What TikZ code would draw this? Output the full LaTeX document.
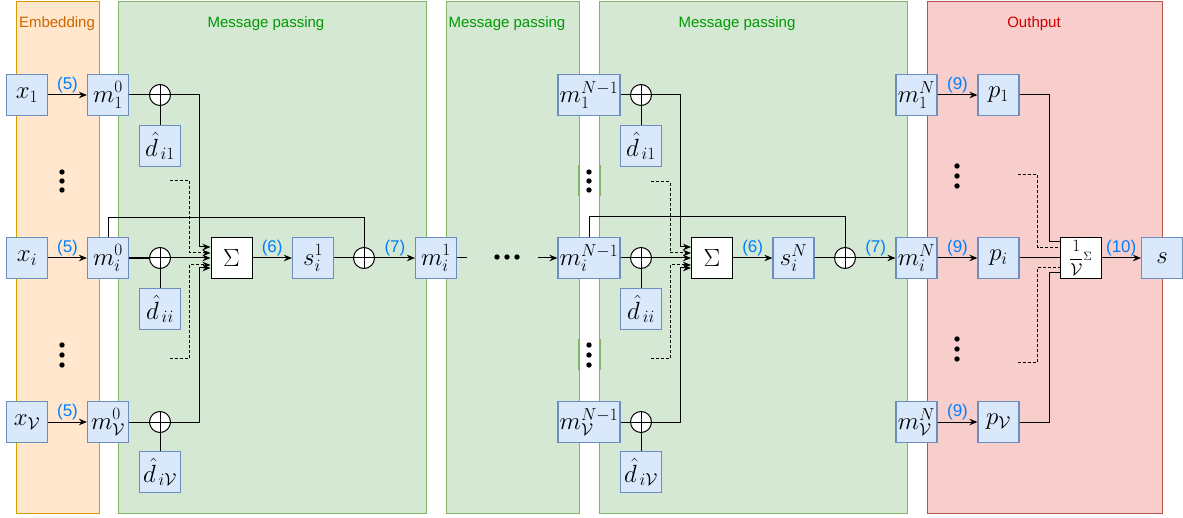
\RequirePackage{fix-cm}
\documentclass[tikz,border=0pt]{standalone}
\usepackage{fontspec}
\setsansfont{Liberation Sans}
\DeclareMathSizes{24.88}{24.88}{17.28}{12}
\DeclareMathSizes{17.28}{17.28}{12}{10}
\usetikzlibrary{calc,arrows.meta}
\definecolor{bfill}{HTML}{DAE8FC}
\definecolor{bbord}{HTML}{6C8EBF}
\definecolor{gfill}{HTML}{D5E8D4}
\definecolor{gbord}{HTML}{82B366}
\definecolor{ofill}{HTML}{FFE6CC}
\definecolor{obord}{HTML}{D79B00}
\definecolor{rfill}{HTML}{F8CECC}
\definecolor{rbord}{HTML}{B85450}
\definecolor{lblue}{HTML}{007FFF}
\definecolor{otext}{HTML}{CC6600}
\definecolor{gtext}{HTML}{009900}
\definecolor{rtext}{HTML}{CC0000}
\begin{document}
\begin{tikzpicture}[x=1pt,y=-1pt,
  bx/.style={draw=bbord, fill=bfill, line width=1.2pt, minimum width=41pt, minimum height=41pt, inner sep=0pt, font=\fontsize{24.88}{30}\selectfont},
  wbx/.style={bx, minimum width=62pt},
  sumbox/.style={draw=black, fill=white, line width=1pt, minimum width=41pt, minimum height=41pt, inner sep=0pt, font=\fontsize{24.88}{30}\selectfont},
  opl/.style={circle, draw=black, fill=white, line width=1pt, minimum size=21pt, inner sep=0pt,
    path picture={\draw[line width=1pt] (path picture bounding box.north) -- (path picture bounding box.south)
      (path picture bounding box.west) -- (path picture bounding box.east);}},
  panel/.style={line width=1pt},
  ttl/.style={font=\sffamily\fontsize{15}{18}\selectfont},
  lbl/.style={font=\sffamily\fontsize{17}{20}\selectfont, text=lblue, inner sep=1pt},
  ln/.style={draw=black, line width=1pt},
  arr/.style={ln, -{Stealth[length=8pt,width=6.5pt]}},
  dsh/.style={dash pattern=on 3pt off 2pt}
]
\useasboundingbox (0,0) rectangle (1183,518);
% panels
\draw[panel, draw=obord, fill=ofill] (16,2) rectangle (99,513);
\draw[panel, draw=gbord, fill=gfill] (118,2) rectangle (426,513);
\draw[panel, draw=gbord, fill=gfill] (446,2) rectangle (579,513);
\draw[panel, draw=gbord, fill=gfill] (599,2) rectangle (907,513);
\draw[panel, draw=rbord, fill=rfill] (927,2) rectangle (1162,513);
\draw[gbord, line width=2pt] (579,165) -- (579,196) (600,165) -- (600,196)
  (579,339) -- (579,370) (600,339) -- (600,370);
\node[ttl, text=otext] (t0) at (57,24) {Embedding};
\node[ttl, text=gtext] (t1) at (266,24) {Message passing};
\node[ttl, text=gtext] (t2) at (507,24) {Message passing};
\node[ttl, text=gtext] (t3) at (737,24) {Message passing};
\node[ttl, text=rtext] (t4) at (1034,24) {Outhput};
% dots
\foreach \y in {172,181,190,345,355,365} {\fill (62,\y) circle[radius=2.7pt]; \fill (589,\y) circle[radius=2.7pt];}
\foreach \y in {166,176,186,339,349,359} {\fill (957,\y) circle[radius=2.7pt];}
\foreach \x in {497,507,517} {\fill (\x,257) circle[radius=2.7pt];}
% embedding
\node[bx] (x1) at (27,95) {$x_1$};
\node[bx] (xi) at (27,258) {$x_i$};
\node[bx] (xV) at (27,422) {$x_{\mathcal V}$};
% message passing 1
\node[bx] (m10) at (108,95) {$m_1^0$};
\node[bx] (mi0) at (108,258) {$m_i^0$};
\node[bx] (mV0) at (108,422) {$m_{\mathcal V}^0$};
\node[opl] (c11) at (160,95) {};
\node[opl] (c1i) at (160,258) {};
\node[opl] (c1V) at (160,422) {};
\node[bx] (d11) at (160,146) {$\hat d_{\,i1}$};
\node[bx] (d1i) at (160,309) {$\hat d_{\,ii}$};
\node[bx] (d1V) at (160,472) {$\hat d_{\,i\mathcal V}$};
\node[sumbox] (S1) at (231.5,258) {$\Sigma$};
\node[bx] (s1) at (313,258) {$s_i^1$};
\node[opl] (c1o) at (364,258) {};
\node[bx] (mi1) at (436,258) {$m_i^1$};
% message passing 3
\node[wbx] (m1N1) at (589,95) {$m_1^{N-1}$};
\node[wbx] (miN1) at (589,258) {$m_i^{N-1}$};
\node[wbx] (mVN1) at (589,422) {$m_{\mathcal V}^{N-1}$};
\node[opl] (c31) at (641,95) {};
\node[opl] (c3i) at (641,258) {};
\node[opl] (c3V) at (641,422) {};
\node[bx] (d31) at (641,146) {$\hat d_{\,i1}$};
\node[bx] (d3i) at (641,309) {$\hat d_{\,ii}$};
\node[bx] (d3V) at (641,472) {$\hat d_{\,i\mathcal V}$};
\node[sumbox] (S3) at (712,258) {$\Sigma$};
\node[bx] (sN) at (793.5,258) {$s_i^N$};
\node[opl] (c3o) at (845,258) {};
% output
\node[bx] (m1N) at (916.5,95) {$m_1^N$};
\node[bx] (miN) at (916.5,258) {$m_i^N$};
\node[bx] (mVN) at (916.5,422) {$m_{\mathcal V}^N$};
\node[bx] (p1) at (998.5,95) {$p_1$};
\node[bx] (pi) at (998.5,258) {$p_i$};
\node[bx] (pV) at (998.5,422) {$p_{\mathcal V}$};
\node[sumbox, font=\fontsize{17.28}{20}\selectfont] (A) at (1080.5,258) {$\displaystyle\frac{1}{\mathcal V}\raisebox{0.4ex}{$\scriptstyle\Sigma$}$};
\node[bx] (s) at (1162,258) {$s$};
% coordinates
\coordinate (e1a) at (170,181);
\coordinate (e1b) at (170,359);
\coordinate (e3a) at (651,182);
\coordinate (e3b) at (651,359);
\coordinate (e4a) at (1018,175);
\coordinate (e4b) at (1018,363);
\coordinate (g1) at (467,258);
\coordinate (g2) at (538,258);
% embedding arrows
\draw[arr] (x1) -- node[lbl,above]{(5)} (m10);
\draw[arr] (xi) -- node[lbl,above]{(5)} (mi0);
\draw[arr] (xV) -- node[lbl,above]{(5)} (mV0);
% MP1 connectors
\draw[ln] (m10) -- (c11);
\draw[ln] (c11) -- (d11);
\draw[ln, line width=1.8pt] (mi0) -- (c1i);
\draw[ln] (c1i) -- (d1i);
\draw[ln] (mV0) -- (c1V);
\draw[ln] (c1V) -- (d1V);
\draw[arr] (c11.east) -| ($(S1.west)+(-11,-11)$) -- ($(S1.west)+(0,-11)$);
\draw[arr, dsh] (e1a) -| ($(S1.west)+(-21,-5)$) -- ($(S1.west)+(0,-5)$);
\draw[arr] (c1i) -- (S1);
\draw[arr, dsh] (e1b) -| ($(S1.west)+(-21,7)$) -- ($(S1.west)+(0,7)$);
\draw[arr] (c1V.east) -| ($(S1.west)+(-11,10)$) -- ($(S1.west)+(0,10)$);
\draw[arr] (S1) -- node[lbl,above]{(6)} (s1);
\draw[ln] (s1) -- (c1o);
\draw[arr] (c1o) -- node[lbl,above]{(7)} (mi1);
\draw[ln] (mi0.north) |- ($(c1o)+(0,-40)$) -- (c1o.north);
\draw[ln] (mi1) -- (g1);
\draw[arr] (g2) -- (miN1);
% MP3 connectors
\draw[ln] (m1N1) -- (c31);
\draw[ln] (c31) -- (d31);
\draw[ln] (miN1) -- (c3i);
\draw[ln] (c3i) -- (d3i);
\draw[ln] (mVN1) -- (c3V);
\draw[ln] (c3V) -- (d3V);
\draw[arr] (c31.east) -| ($(S3.west)+(-11,-11)$) -- ($(S3.west)+(0,-11)$);
\draw[arr, dsh] (e3a) -| ($(S3.west)+(-21,-5)$) -- ($(S3.west)+(0,-5)$);
\draw[arr] (c3i) -- (S3);
\draw[arr, dsh] (e3b) -| ($(S3.west)+(-21,7)$) -- ($(S3.west)+(0,7)$);
\draw[arr] (c3V.east) -| ($(S3.west)+(-11,10)$) -- ($(S3.west)+(0,10)$);
\draw[arr] (S3) -- node[lbl,above]{(6)} (sN);
\draw[ln] (sN) -- (c3o);
\draw[arr] (c3o) -- node[lbl,above]{(7)} (miN);
\draw[ln] (miN1.north) |- ($(c3o)+(0,-41)$) -- (c3o.north);
% output connectors
\draw[arr] (m1N) -- node[lbl,above]{(9)} (p1);
\draw[arr] (miN) -- node[lbl,above]{(9)} (pi);
\draw[arr] (mVN) -- node[lbl,above]{(9)} (pV);
\draw[ln] (p1.east) -| ($(A.west)+(-10,-16)$) -- ($(A.west)+(0,-16)$);
\draw[ln, dsh] (e4a) -| ($(A.west)+(-22,-10)$) -- ($(A.west)+(0,-10)$);
\draw[ln] (pi) -- (A);
\draw[ln, dsh] (e4b) -| ($(A.west)+(-22,10)$) -- ($(A.west)+(0,10)$);
\draw[ln] (pV.east) -| ($(A.west)+(-10,15)$) -- ($(A.west)+(0,15)$);
\draw[arr] (A) -- node[lbl,above]{(10)} (s);
\end{tikzpicture}
\end{document}
